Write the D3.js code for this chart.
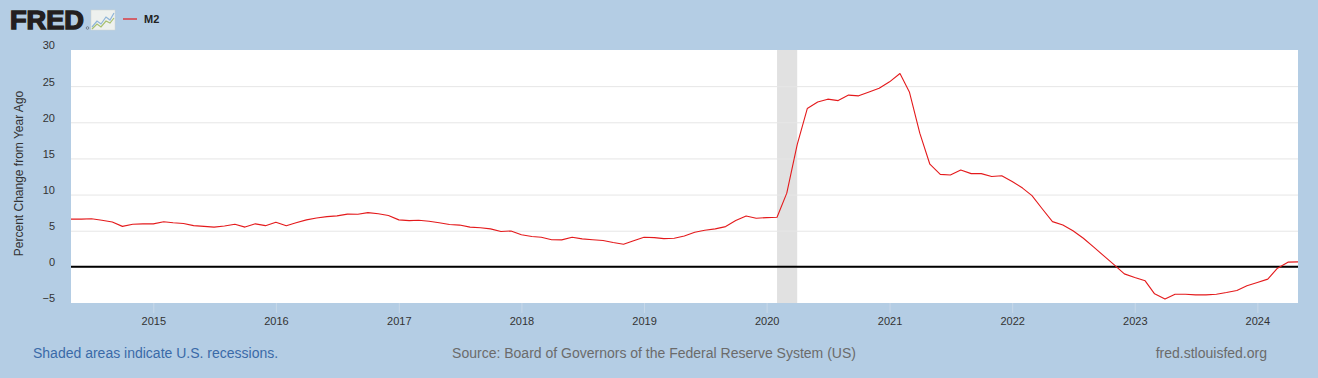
<!DOCTYPE html>
<html>
<head>
<meta charset="utf-8">
<script src="https://cdn.jsdelivr.net/npm/d3@7"></script>
<style>
  html, body { margin: 0; padding: 0; background: #b4cde4; }
  svg { display: block; }
  text { font-family: "Liberation Sans", Arial, sans-serif; }
</style>
</head>
<body>
<svg id="chart" width="1318" height="378"></svg>
<script>
// ---- data ----
const seriesName = "M2";
const startMonth = "2014-05-01";
const m2Values = [
  // 2014 May-Dec
  6.6, 6.6, 6.65, 6.45, 6.2, 5.6, 5.9, 5.95,
  // 2015
  5.95, 6.25, 6.1, 6.0, 5.7, 5.6, 5.5, 5.65, 5.9, 5.5, 5.95, 5.7,
  // 2016
  6.17, 5.7, 6.1, 6.5, 6.75, 6.95, 7.05, 7.3, 7.27, 7.5, 7.35, 7.1,
  // 2017
  6.5, 6.4, 6.45, 6.3, 6.1, 5.85, 5.78, 5.5, 5.4, 5.25, 4.9, 4.97,
  // 2018
  4.45, 4.2, 4.1, 3.75, 3.73, 4.1, 3.87, 3.75, 3.64, 3.36, 3.13, 3.6,
  // 2019
  4.1, 4.05, 3.91, 3.96, 4.28, 4.79, 5.07, 5.25, 5.57, 6.4, 7.04, 6.72,
  // 2020
  6.81, 6.86, 10.2, 16.9, 21.9, 22.8, 23.2, 23.0, 23.76, 23.66, 24.2, 24.7,
  // 2021
  25.6, 26.75, 24.2, 18.5, 14.2, 12.8, 12.7, 13.4, 12.9, 12.9, 12.5, 12.6,
  // 2022
  11.8, 10.9, 9.85, 8.0, 6.26, 5.8, 5.0, 3.96, 2.72, 1.52, 0.28, -0.97,
  // 2023
  -1.47, -1.93, -3.73, -4.46, -3.78, -3.78, -3.87, -3.87, -3.78, -3.55, -3.27, -2.62,
  // 2024 Jan-May
  -2.16, -1.7, -0.18, 0.65, 0.69
];
const recessions = [["2020-02-01", "2020-04-01"]];
const yTicks = [-5, 0, 5, 10, 15, 20, 25, 30];
const xTickYears = [2015, 2016, 2017, 2018, 2019, 2020, 2021, 2022, 2023, 2024];
const yTitle = "Percent Change from Year Ago";
const footLeft = "Shaded areas indicate U.S. recessions.";
const footMid = "Source: Board of Governors of the Federal Reserve System (US)";
const footRight = "fred.stlouisfed.org";

// ---- build ----
const parse = d3.utcParse("%Y-%m-%d");
const t0 = parse(startMonth);
const data = m2Values.map((v, i) => ({ date: d3.utcMonth.offset(t0, i), value: v }));

const svg = d3.select("#chart");
const W = 1318, H = 378;
const plot = { left: 71, right: 1298, top: 50, bottom: 303 };

svg.append("rect").attr("width", W).attr("height", H).attr("fill", "#b4cde4");

const x = d3.scaleUtc()
  .domain([data[0].date, data[data.length - 1].date])
  .range([plot.left, plot.right]);
const y = d3.scaleLinear().domain([-5, 30]).range([plot.bottom, plot.top]);

// plot background
svg.append("rect")
  .attr("x", plot.left).attr("y", plot.top)
  .attr("width", plot.right - plot.left).attr("height", plot.bottom - plot.top)
  .attr("fill", "#ffffff");

// recessions
svg.append("g").selectAll("rect").data(recessions).join("rect")
  .attr("x", d => x(parse(d[0])))
  .attr("y", plot.top)
  .attr("width", d => x(parse(d[1])) - x(parse(d[0])))
  .attr("height", plot.bottom - plot.top)
  .attr("fill", "#e1e1e1");

// gridlines
const yAxisGrid = d3.axisLeft(y).tickValues(yTicks).tickSize(-(plot.right - plot.left)).tickFormat("");
const gGrid = svg.append("g").attr("transform", `translate(${plot.left},0)`).call(yAxisGrid);
gGrid.select(".domain").remove();
gGrid.selectAll("line").attr("stroke", "#e6e6e6").attr("stroke-width", 1)
  .filter(d => d === 30 || d === -5).remove();

// y labels
const yAxis = d3.axisLeft(y).tickValues(yTicks).tickSize(0).tickPadding(0).tickFormat(d3.format("d"));
const gY = svg.append("g").attr("transform", `translate(55,0)`).call(yAxis);
gY.select(".domain").remove();
gY.selectAll("text")
  .attr("font-size", 11).attr("fill", "#333333")
  .attr("font-family", "Liberation Sans, Arial, sans-serif")
  .attr("dy", "-0.1em");

// x axis
const xTicks = xTickYears.map(yr => new Date(Date.UTC(yr, 0, 1)));
const xAxis = d3.axisBottom(x).tickValues(xTicks).tickSize(10).tickPadding(4).tickFormat(d3.utcFormat("%Y"));
const gX = svg.append("g").attr("transform", `translate(0,${plot.bottom})`).call(xAxis);
gX.select(".domain").remove();
gX.selectAll("line").attr("stroke", "#c8d8e8").attr("stroke-width", 1);
gX.selectAll("text")
  .attr("font-size", 11).attr("fill", "#333333")
  .attr("font-family", "Liberation Sans, Arial, sans-serif");

// zero line
svg.append("line")
  .attr("x1", plot.left).attr("x2", plot.right)
  .attr("y1", y(0)).attr("y2", y(0))
  .attr("stroke", "#000000").attr("stroke-width", 2);

// series line
const line = d3.line().x(d => x(d.date)).y(d => y(d.value));
svg.append("path").datum(data)
  .attr("d", line)
  .attr("fill", "none")
  .attr("stroke", "#e41a1c")
  .attr("stroke-width", 1.1)
  .attr("stroke-linejoin", "round");

// y title
svg.append("text")
  .attr("transform", `translate(23,${(plot.top + plot.bottom) / 2 - 3}) rotate(-90)`)
  .attr("text-anchor", "middle")
  .attr("font-size", 12)
  .attr("fill", "#333333")
  .text(yTitle);

// FRED logo
const logo = svg.append("g");
logo.append("text")
  .attr("x", 10).attr("y", 29)
  .attr("font-size", 26).attr("font-weight", 900)
  .attr("font-family", "Liberation Sans, Arial, sans-serif")
  .attr("textLength", 74).attr("lengthAdjust", "spacingAndGlyphs")
  .attr("fill", "#231f20")
  .attr("stroke", "#231f20").attr("stroke-width", 1.4)
  .text("FRED");
logo.append("circle").attr("cx", 87.5).attr("cy", 28).attr("r", 1.3)
  .attr("fill", "none").attr("stroke", "#231f20").attr("stroke-width", 0.4);
logo.append("rect").attr("x", 91).attr("y", 10).attr("width", 24).attr("height", 20)
  .attr("fill", "#eef1ee").attr("stroke", "#d0d6d0").attr("stroke-width", 0.5);
logo.append("polyline").attr("points", "92,27 97,21 101,24 106,17 110,20 114,13")
  .attr("fill", "none").attr("stroke", "#8fb5d8").attr("stroke-width", 1.2);
logo.append("polyline").attr("points", "92,29 97,24 101,27 106,21 110,23 114,18")
  .attr("fill", "none").attr("stroke", "#a8c070").attr("stroke-width", 1.2);

// legend
svg.append("line").attr("x1", 123).attr("x2", 137).attr("y1", 19).attr("y2", 19)
  .attr("stroke", "#e41a1c").attr("stroke-width", 1.2);
svg.append("text").attr("x", 144).attr("y", 23)
  .attr("font-size", 11).attr("font-weight", "bold").attr("fill", "#222222")
  .text(seriesName);

// footer
svg.append("text").attr("x", 33).attr("y", 358)
  .attr("font-size", 14).attr("fill", "#3a6aa8").text(footLeft);
svg.append("text").attr("x", 654).attr("y", 358).attr("text-anchor", "middle")
  .attr("font-size", 14).attr("fill", "#6b6b6b").text(footMid);
svg.append("text").attr("x", 1267).attr("y", 358).attr("text-anchor", "end")
  .attr("font-size", 14).attr("fill", "#6b6b6b").text(footRight);
</script>
</body>
</html>
